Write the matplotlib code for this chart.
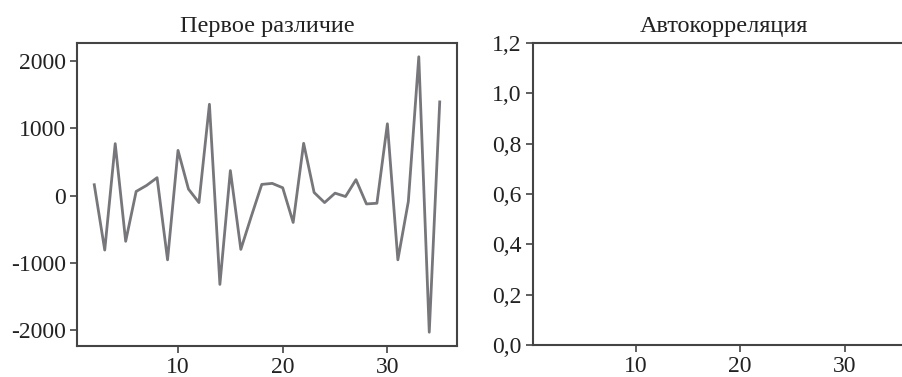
import matplotlib
matplotlib.use('Agg')
import matplotlib.pyplot as plt
from matplotlib.ticker import FuncFormatter

# first difference of the series, t = 2..35
t = list(range(2, 36))
diff1 = [160, -810, 770, -680, 60, 150, 265, -955, 670, 95, -105, 1355,
         -1320, 370, -800, -310, 165, 180, 115, -400, 775, 45, -105, 35,
         -15, 235, -125, -115, 1065, -955, -90, 2060, -2030, 1390]

acf_ticks = [0.0, 0.2, 0.4, 0.6, 0.8, 1.0, 1.2]

plt.rcParams['font.family'] = ['Liberation Serif', 'DejaVu Serif']
plt.rcParams['axes.unicode_minus'] = False
edge = '#444444'

fig = plt.figure(figsize=(9.03, 3.77), dpi=100)
W, H = 903.0, 377.0

ax1 = fig.add_axes([77 / W, (H - 346) / H, 380 / W, 303 / H])
ax1.plot(t, diff1, color='#77777b', linewidth=2)
ax1.set_title('Первое различие', pad=8, fontsize=17.5, color='#222222')
ax1.set_yticks([-2000, -1000, 0, 1000, 2000])
ax1.set_xticks([10, 20, 30])

ax2 = fig.add_axes([533 / W, (H - 345) / H, 381 / W, 302 / H])
ax2.set_xlim(0.2, 36.6)
ax2.set_ylim(0, 1.2)
ax2.set_yticks(acf_ticks)
ax2.yaxis.set_major_formatter(FuncFormatter(lambda v, p: ('%.1f' % v).replace('.', ',')))
ax2.set_xticks([10, 20, 30])
ax2.set_title('Автокорреляция', pad=8, fontsize=17.5, color='#222222')

for ax in (ax1, ax2):
    for s in ax.spines.values():
        s.set_color(edge)
        s.set_linewidth(1.5)
    ax.tick_params(direction='out', length=5, width=1.2, color=edge,
                   pad=3, labelsize=17, labelcolor='#222222')

fig.savefig('out.png', dpi=100)
